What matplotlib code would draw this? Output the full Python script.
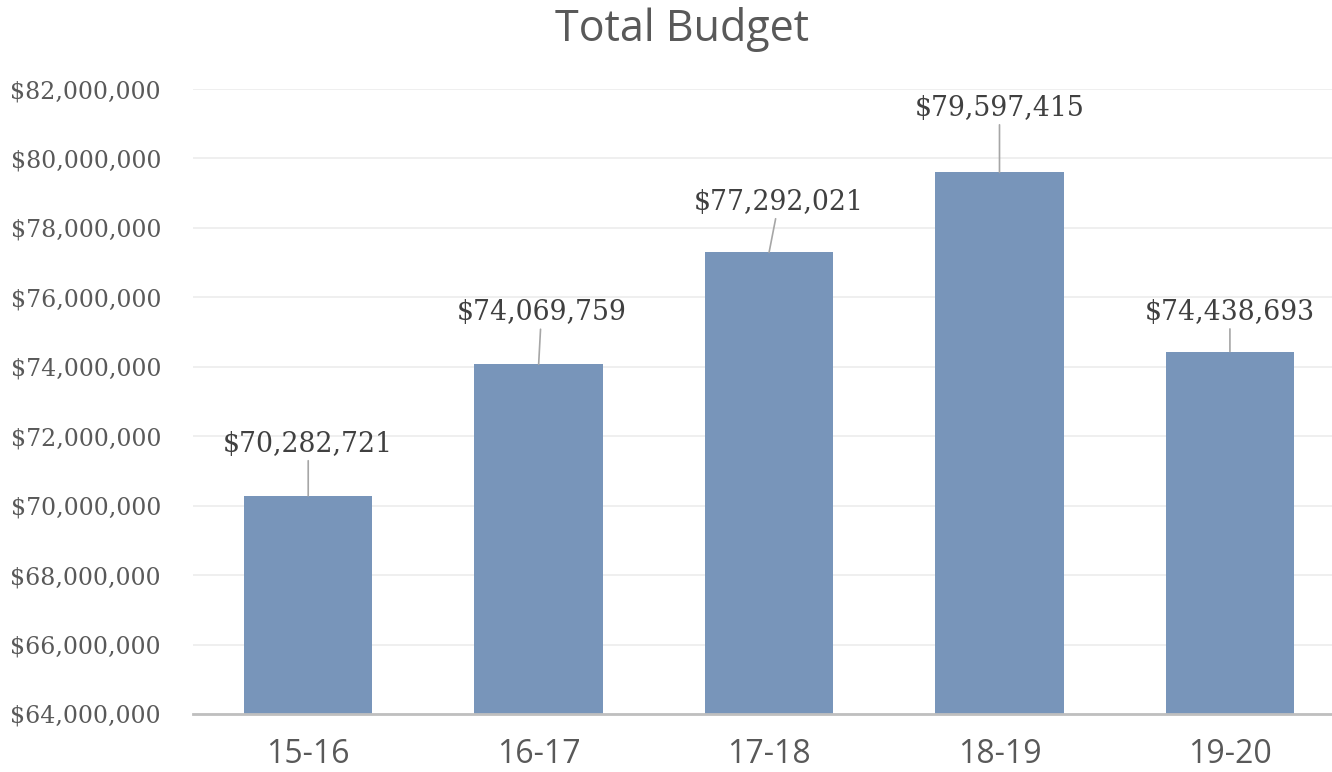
import matplotlib.pyplot as plt
from matplotlib.ticker import FuncFormatter

# data
years = ['15-16', '16-17', '17-18', '18-19', '19-20']
budget = [70282721, 74069759, 77292021, 79597415, 74438693]

# label offsets (points) above bar tops
label_dx = [0, 2, 7, 0, 0]
label_dy = [37, 37, 36, 46, 28]

fig = plt.figure(figsize=(13.32, 7.72), dpi=100)
ax = fig.add_axes([193 / 1332, (772 - 714) / 772, (1332 - 193) / 1332, (714 - 89) / 772])

x = list(range(len(years)))
ax.bar(x, budget, width=0.557, color='#7895ba', zorder=2)

ax.set_ylim(64000000, 82000000)
ax.set_xlim(-0.5, 4.443)
ax.set_yticks(range(64000000, 82000001, 2000000))
ax.yaxis.set_major_formatter(FuncFormatter(lambda v, p: '${:,.0f}'.format(v)))
ax.set_xticks(x)
ax.set_xticklabels(years, fontfamily='Open Sans', fontsize=23, color='#595959')
for t in ax.get_yticklabels():
    t.set_fontfamily('DejaVu Serif')
    t.set_fontsize(17)
    t.set_color('#595959')

ax.tick_params(axis='y', length=0, pad=23)
ax.tick_params(axis='x', length=0, pad=17)
ax.grid(axis='y', color='#ececec', linewidth=1.2, zorder=0)
for s in ['top', 'right', 'left']:
    ax.spines[s].set_visible(False)
ax.spines['bottom'].set_color('#bfbfbf')
ax.spines['bottom'].set_linewidth(2)
ax.spines['bottom'].set_zorder(3)

# data labels with leader lines
for i, v in enumerate(budget):
    ax.annotate('${:,}'.format(v), xy=(i, v), xytext=(label_dx[i], label_dy[i]),
                textcoords='offset points', ha='center', va='center',
                fontfamily='DejaVu Serif', fontsize=19.3, color='#404040',
                arrowprops=dict(arrowstyle='-', color='#a6a6a6', lw=1.2,
                                shrinkA=0, shrinkB=0))

fig.text(682 / 1332, 1 - 30 / 772, 'Total Budget', ha='center', va='center',
         fontfamily='Open Sans', fontsize=31, color='#595959')

plt.savefig('out.png', dpi=100)
